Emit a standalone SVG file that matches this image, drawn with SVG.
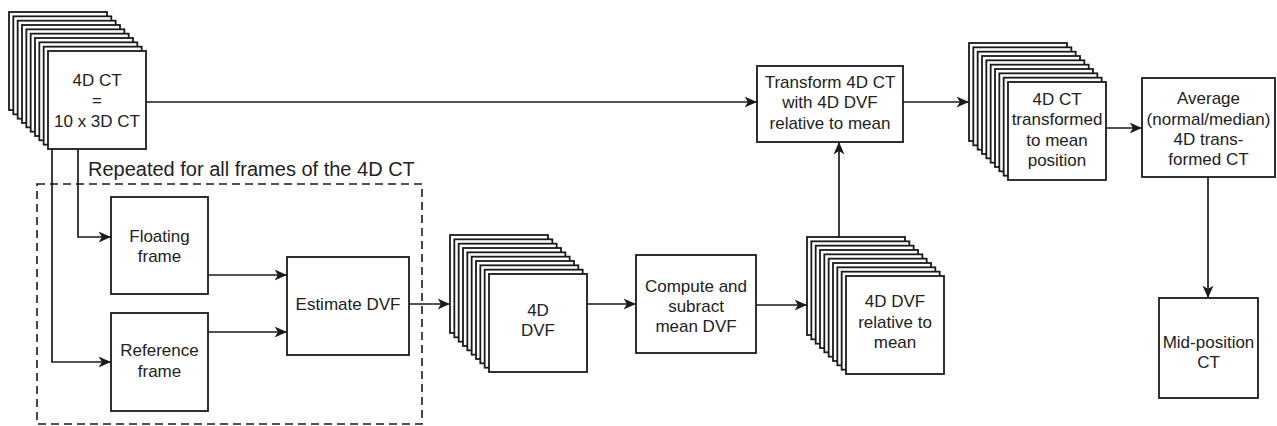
<svg xmlns="http://www.w3.org/2000/svg" width="1277" height="426" viewBox="0 0 1277 426">
<style>
.box{fill:#fff;stroke:#1a1a1a;stroke-width:1.8}
.ln{fill:none;stroke:#1a1a1a;stroke-width:1.7}
.t{font-family:"Liberation Sans",Arial,sans-serif;font-size:17px;fill:#222;text-anchor:middle}
.lbl{font-family:"Liberation Sans",Arial,sans-serif;font-size:20px;fill:#222}
</style>
<defs>
<marker id="ah" markerWidth="14" markerHeight="12" refX="12.5" refY="6" orient="auto" markerUnits="userSpaceOnUse">
<path d="M0,0.5 L12.5,6 L0,11.5 L3.5,6 Z" fill="#1a1a1a"/>
</marker>
<g id="stk">
<rect class="box" x="0" y="0" width="98" height="98"/>
<rect class="box" x="4.33" y="4.33" width="98" height="98"/>
<rect class="box" x="8.67" y="8.67" width="98" height="98"/>
<rect class="box" x="13" y="13" width="98" height="98"/>
<rect class="box" x="17.33" y="17.33" width="98" height="98"/>
<rect class="box" x="21.67" y="21.67" width="98" height="98"/>
<rect class="box" x="26" y="26" width="98" height="98"/>
<rect class="box" x="30.33" y="30.33" width="98" height="98"/>
<rect class="box" x="34.67" y="34.67" width="98" height="98"/>
<rect class="box" x="39" y="39" width="98" height="98"/>
</g>
</defs>
<rect width="1277" height="426" fill="#fff"/>

<g id="repeat-group">
<rect x="37" y="184" width="385" height="240" fill="none" stroke="#1a1a1a" stroke-width="1.6" stroke-dasharray="8 5"/>
<text class="lbl" x="88" y="176">Repeated for all frames of the 4D CT</text>
</g>

<g id="connectors">
<path class="ln" d="M146,102 H757" marker-end="url(#ah)"/>
<path class="ln" d="M78,149 V237 H111" marker-end="url(#ah)"/>
<path class="ln" d="M52,149 V362 H111" marker-end="url(#ah)"/>
<path class="ln" d="M208,275 H287" marker-end="url(#ah)"/>
<path class="ln" d="M208,332 H287" marker-end="url(#ah)"/>
<path class="ln" d="M409,304 H450" marker-end="url(#ah)"/>
<path class="ln" d="M587,304 H636" marker-end="url(#ah)"/>
<path class="ln" d="M756,305 H807" marker-end="url(#ah)"/>
<path class="ln" d="M839,237 V142" marker-end="url(#ah)"/>
<path class="ln" d="M903,102 H969" marker-end="url(#ah)"/>
<path class="ln" d="M1107,128 H1142" marker-end="url(#ah)"/>
<path class="ln" d="M1208,177 V298" marker-end="url(#ah)"/>
</g>

<g id="n-4dct">
<use href="#stk" x="9" y="12"/>
<text class="t" x="97" y="86">4D CT</text>
<text class="t" x="97" y="106">=</text>
<text class="t" x="97" y="127">10 x 3D CT</text>
</g>

<g id="n-floating">
<rect class="box" x="111" y="197" width="97" height="97"/>
<text class="t" x="159.5" y="242">Floating</text>
<text class="t" x="159.5" y="262">frame</text>
</g>

<g id="n-reference">
<rect class="box" x="111" y="313" width="97" height="98"/>
<text class="t" x="159.5" y="356">Reference</text>
<text class="t" x="159.5" y="377">frame</text>
</g>

<g id="n-estimate">
<rect class="box" x="287" y="257" width="122" height="98"/>
<text class="t" x="348" y="310">Estimate DVF</text>
</g>

<g id="n-4ddvf">
<use href="#stk" x="450" y="235"/>
<text class="t" x="538" y="316">4D</text>
<text class="t" x="538" y="336">DVF</text>
</g>

<g id="n-compute">
<rect class="box" x="636" y="255" width="120" height="98"/>
<text class="t" x="696" y="292">Compute and</text>
<text class="t" x="696" y="312">subract</text>
<text class="t" x="696" y="332">mean DVF</text>
</g>

<g id="n-4ddvfrel">
<use href="#stk" x="807" y="237"/>
<text class="t" x="895" y="307">4D DVF</text>
<text class="t" x="895" y="328">relative to</text>
<text class="t" x="895" y="348">mean</text>
</g>

<g id="n-transform">
<rect class="box" x="757" y="66" width="146" height="76"/>
<text class="t" x="830" y="88">Transform 4D CT</text>
<text class="t" x="830" y="108">with 4D DVF</text>
<text class="t" x="830" y="129">relative to mean</text>
</g>

<g id="n-4dcttrans">
<use href="#stk" x="969" y="43"/>
<text class="t" x="1057" y="105">4D CT</text>
<text class="t" x="1057" y="125">transformed</text>
<text class="t" x="1057" y="146">to mean</text>
<text class="t" x="1057" y="166">position</text>
</g>

<g id="n-average">
<rect class="box" x="1142" y="78" width="133" height="99"/>
<text class="t" x="1208.5" y="104">Average</text>
<text class="t" x="1208.5" y="125">(normal/median)</text>
<text class="t" x="1208.5" y="145">4D trans-</text>
<text class="t" x="1208.5" y="165">formed CT</text>
</g>

<g id="n-midpos">
<rect class="box" x="1159" y="298" width="99" height="100"/>
<text class="t" x="1208.5" y="348">Mid-position</text>
<text class="t" x="1208.5" y="368">CT</text>
</g>
</svg>
